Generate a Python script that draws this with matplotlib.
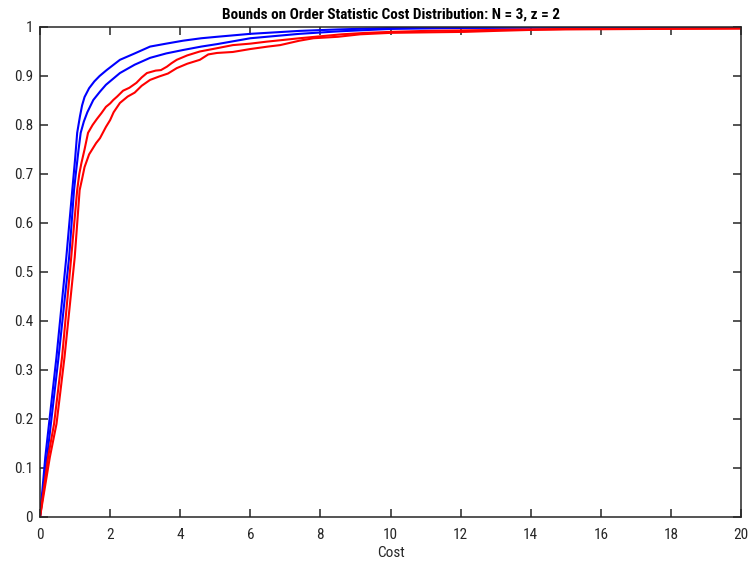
import numpy as np
import matplotlib.pyplot as plt

plt.rcParams['font.family'] = ['Roboto Condensed', 'DejaVu Sans']

# upper / lower bounds on the CDF of the order statistic cost
blue_hi_x = [0, 0.15, 0.47, 0.75, 0.92, 1.0, 1.06, 1.14, 1.2, 1.27, 1.4, 1.55, 1.7, 1.9, 2.28, 2.7, 3.14, 3.6, 4.08, 4.6, 5.05, 6.0, 7.4, 8.5, 10, 12, 15, 20]
blue_hi_y = [0, 0.122, 0.327, 0.53, 0.667, 0.73, 0.784, 0.818, 0.84, 0.857, 0.875, 0.889, 0.900, 0.912, 0.933, 0.946, 0.960, 0.966, 0.972, 0.977, 0.980, 0.986, 0.992, 0.995, 0.998, 0.999, 1.0, 1.0]

blue_lo_x = [0, 0.2, 0.53, 0.83, 0.97, 1.02, 1.1, 1.16, 1.25, 1.35, 1.52, 1.71, 1.88, 2.28, 2.7, 3.14, 3.6, 4.08, 4.6, 5.05, 6.0, 7.4, 8.5, 10, 12, 15, 20]
blue_lo_y = [0, 0.122, 0.327, 0.53, 0.667, 0.70, 0.75, 0.784, 0.807, 0.826, 0.851, 0.868, 0.882, 0.906, 0.923, 0.937, 0.946, 0.953, 0.960, 0.965, 0.977, 0.986, 0.991, 0.996, 0.998, 0.999, 1.0]

red_hi_x = [0, 0.23, 0.40, 0.63, 0.89, 1.06, 1.12, 1.18, 1.27, 1.37, 1.5, 1.62, 1.75, 1.88, 2.0, 2.09, 2.2, 2.37, 2.55, 2.75, 2.9, 3.05, 3.3, 3.45, 3.62, 3.75, 3.9, 4.2, 4.56, 5.0, 5.5, 6.0, 6.46, 7.0, 7.4, 8.0, 8.6, 9.3, 10, 11, 12, 13, 14, 15, 20]
red_hi_y = [0, 0.122, 0.19, 0.327, 0.53, 0.667, 0.70, 0.722, 0.75, 0.784, 0.80, 0.812, 0.824, 0.837, 0.844, 0.851, 0.858, 0.870, 0.876, 0.886, 0.897, 0.906, 0.911, 0.912, 0.919, 0.926, 0.933, 0.942, 0.950, 0.956, 0.963, 0.966, 0.970, 0.974, 0.977, 0.981, 0.985, 0.988, 0.990, 0.992, 0.993, 0.994, 0.995, 0.996, 0.997]

red_lo_x = [0, 0.28, 0.47, 0.70, 0.99, 1.13, 1.2, 1.27, 1.4, 1.6, 1.71, 1.88, 2.0, 2.1, 2.28, 2.5, 2.7, 2.9, 3.14, 3.4, 3.65, 3.9, 4.2, 4.56, 4.8, 5.05, 5.5, 6.0, 6.5, 6.85, 7.4, 7.8, 8.5, 9.13, 10, 11, 12.1, 13, 14, 15, 20]
red_lo_y = [0, 0.122, 0.19, 0.327, 0.53, 0.667, 0.69, 0.714, 0.74, 0.763, 0.773, 0.796, 0.81, 0.826, 0.845, 0.858, 0.866, 0.880, 0.892, 0.899, 0.905, 0.916, 0.925, 0.933, 0.944, 0.947, 0.949, 0.955, 0.960, 0.963, 0.972, 0.977, 0.980, 0.985, 0.988, 0.989, 0.990, 0.992, 0.994, 0.995, 0.997]

fig = plt.figure(figsize=(7.51, 5.68), dpi=100)
ax = fig.add_axes([0.0533, 0.0898, 0.9334, 0.8627])

ax.plot(blue_hi_x, blue_hi_y, color='#0000ff', lw=1.5)
ax.plot(blue_lo_x, blue_lo_y, color='#0000ff', lw=1.5)
ax.plot(red_hi_x, red_hi_y, color='#ff0000', lw=1.5)
ax.plot(red_lo_x, red_lo_y, color='#ff0000', lw=1.5)

ax.set_xlim(0, 20)
ax.set_ylim(0, 1)
ax.set_xticks(np.arange(0, 21, 2))
ax.set_yticks(np.arange(0, 1.01, 0.1))
ax.set_yticklabels(['0'] + ['%.1f' % v for v in np.arange(0.1, 0.95, 0.1)] + ['1'])

for s in ax.spines.values():
    s.set_color('#262626')
    s.set_linewidth(1.1)
ax.tick_params(direction='in', top=True, right=True, length=6, width=1.1,
               color='#262626', labelcolor='#262626', labelsize=11)
ax.tick_params(axis='x', pad=8)
ax.tick_params(axis='y', pad=5)

ax.set_xlabel('Cost', fontsize=11, color='#262626', labelpad=3)
ax.set_title('Bounds on Order Statistic Cost Distribution: N = 3, z = 2',
             fontsize=11, fontweight='bold', pad=6)

fig.savefig('out.png', dpi=100)
